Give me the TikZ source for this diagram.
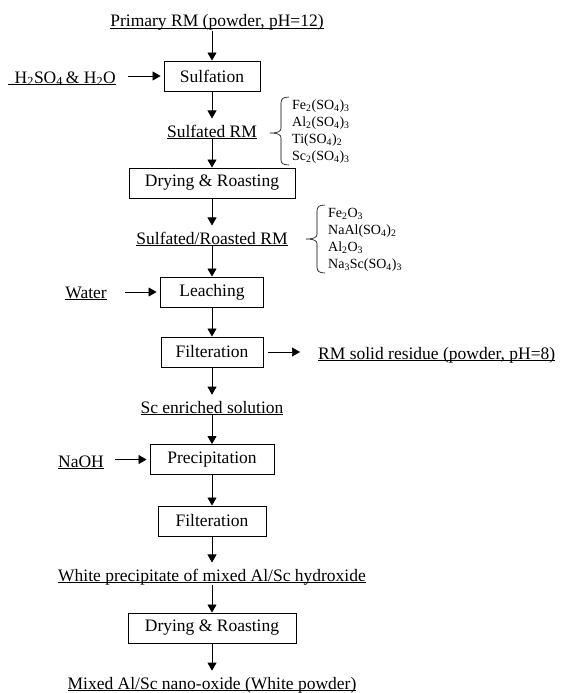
\documentclass[tikz,border=0pt]{standalone}
\usepackage{fontspec}
\setmainfont{Liberation Serif}
\usetikzlibrary{arrows.meta,positioning}

\newcommand{\ulbl}[1]{\underline{\smash{#1}}\vphantom{#1}}

\begin{document}
\begin{tikzpicture}[x=1pt, y=-1pt,
    every node/.style={font=\fontsize{17.5}{21}\selectfont, inner sep=0pt},
    procbox/.style={draw, line width=0.9pt, minimum height=30pt, text centered},
    stage/.style={anchor=base},
    feed/.style={anchor=base east},
    chemlist/.style={anchor=west, align=left, font=\fontsize{14}{17}\selectfont},
    flow/.style={line width=0.7pt, -{Triangle[length=8pt,width=9pt]}},
    totext/.style={flow, shorten >=6pt}]
    \useasboundingbox (0,0) rectangle (562,693);

    % Main process chain
    \node[stage] (primary) at (217,27) {\ulbl{Primary RM (powder, pH=12)}};
    \node[procbox, minimum width=96pt] (sulfation) at (212,76) {Sulfation};
    \node[feed] (acid) at (116,83) {\ulbl{\hspace{7pt}H\textsubscript{2}SO\textsubscript{4}\,\& H\textsubscript{2}O}};
    \node[stage] (sulfrm) at (212,137) {\ulbl{Sulfated RM}};
    \node[procbox, minimum width=166pt] (dry1) at (212,183) {Drying \& Roasting};
    \node[stage] (roastrm) at (212,244) {\ulbl{Sulfated/Roasted RM}};
    \node[procbox, minimum width=103pt] (leach) at (212,292) {Leaching};
    \node[feed] (water) at (107,298) {\ulbl{Water}};
    \node[procbox, minimum width=102pt] (filt1) at (212,352) {Filteration};
    \node[anchor=base west] (residue) at (318,359) {\ulbl{RM solid residue (powder, pH=8)}};
    \node[stage] (scsol) at (212,413) {\ulbl{Sc enriched solution}};
    \node[procbox, minimum width=124pt] (precip) at (212,459.5) {Precipitation};
    \node[feed] (naoh) at (104,467) {\ulbl{NaOH}};
    \node[procbox, minimum width=108pt] (filt2) at (212,521) {Filteration};
    \node[stage] (whiteppt) at (212,581) {\ulbl{White precipitate of mixed Al/Sc hydroxide}};
    \node[procbox, minimum width=168pt] (dry2) at (212,628) {Drying \& Roasting};
    \node[stage] (nanooxide) at (212,689) {\ulbl{Mixed Al/Sc nano-oxide (White powder)}};

    % Phase lists
    \node[chemlist] (sulfates) at (292,131.5) {Fe\textsubscript{2}(SO\textsubscript{4})\textsubscript{3}\\
        Al\textsubscript{2}(SO\textsubscript{4})\textsubscript{3}\\
        Ti(SO\textsubscript{4})\textsubscript{2}\\
        Sc\textsubscript{2}(SO\textsubscript{4})\textsubscript{3}};
    \node[chemlist] (oxides) at (328,240) {Fe\textsubscript{2}O\textsubscript{3}\\
        NaAl(SO\textsubscript{4})\textsubscript{2}\\
        Al\textsubscript{2}O\textsubscript{3}\\
        Na\textsubscript{3}Sc(SO\textsubscript{4})\textsubscript{3}};

    % Braces
    \draw[line width=0.6pt] (289,97) .. controls (283,97) and (281,99) .. (281,103) -- (281,128)
        .. controls (281,131) and (279,133) .. (270,133) .. controls (279,133) and (281,135) .. (281,138)
        -- (281,160) .. controls (281,163) and (283,165) .. (289,165);
    \draw[line width=0.6pt] (325,205) .. controls (319,205) and (317,207) .. (317,211) -- (317,234)
        .. controls (317,237) and (315,239) .. (306,239) .. controls (315,239) and (317,241) .. (317,244)
        -- (317,267) .. controls (317,271) and (319,273) .. (325,273);

    % Vertical flow
    \draw[flow] (primary.south -| sulfation.north) -- (sulfation);
    \draw[totext] (sulfation) -- (sulfrm);
    \draw[flow] (sulfrm) -- (dry1);
    \draw[totext] (dry1) -- (roastrm);
    \draw[flow] (roastrm) -- (leach);
    \draw[flow] (leach) -- (filt1);
    \draw[totext] (filt1) -- (scsol);
    \draw[flow] (scsol) -- (precip);
    \draw[flow] (precip) -- (filt2);
    \draw[totext] (filt2) -- (whiteppt);
    \draw[flow] (whiteppt) -- (dry2);
    \draw[totext] (dry2) -- (nanooxide);

    % Side inputs and outputs
    \draw[flow, shorten <=12pt, shorten >=3pt] (sulfation.west -| acid.east) -- (sulfation.west);
    \draw[flow, shorten <=18pt, shorten >=3.5pt] (leach.west -| water.east) -- (leach.west);
    \draw[flow, shorten <=11pt, shorten >=3pt] (precip.west -| naoh.east) -- (precip.west);
    \draw[flow, shorten <=5pt, shorten >=18pt] (filt1.east) -- (filt1.east -| residue.west);

\end{tikzpicture}
\end{document}
